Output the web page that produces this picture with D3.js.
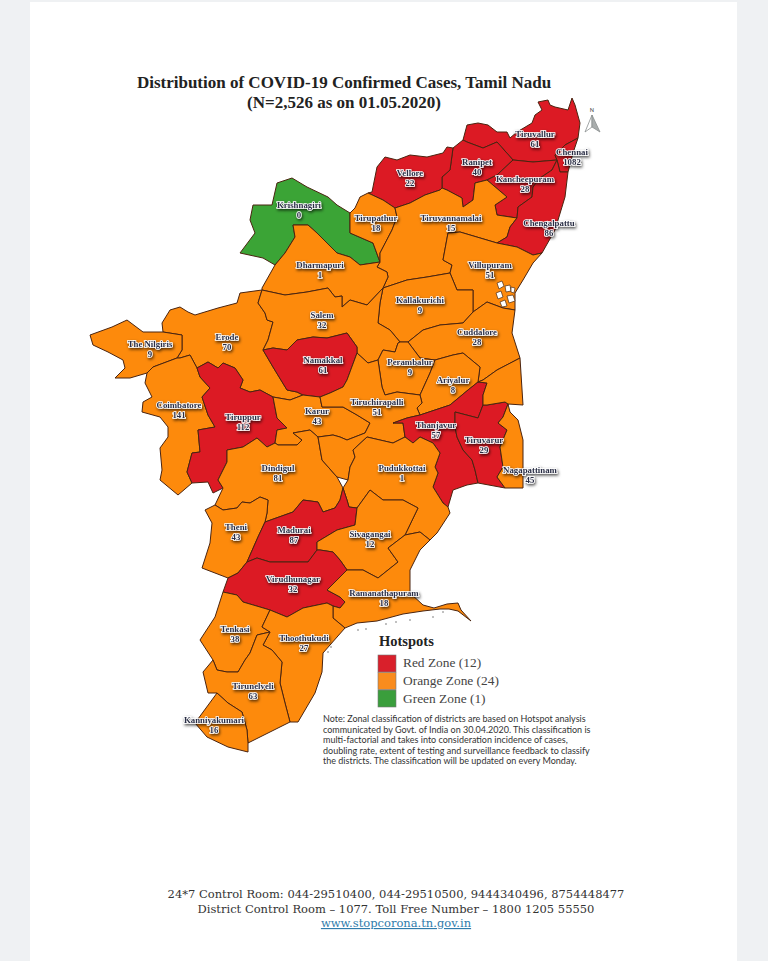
<!DOCTYPE html>
<html>
<head>
<meta charset="utf-8">
<title>Distribution of COVID-19 Confirmed Cases, Tamil Nadu</title>
<script src="https://cdn.jsdelivr.net/npm/d3@7"></script>
<style>
  html, body { margin: 0; padding: 0; background: #eff1f3; }
  svg { display: block; }
</style>
</head>
<body>
<script>
// the chart values
var titleLines = ["Distribution of COVID-19 Confirmed Cases, Tamil Nadu", "(N=2,526 as on 01.05.2020)"];

var districtNames = ["Tiruvallur", "Chennai", "Ranipet", "Vellore", "Kancheepuram", "Krishnagiri", "Tirupathur",
  "Tiruvannamalai", "Chengalpattu", "Dharmapuri", "Villupuram", "Kallakurichi", "Erode", "Salem", "The Nilgiris",
  "Namakkal", "Coimbatore", "Tiruppur", "Karur", "Dindigul", "Cuddalore", "Perambalur", "Ariyalur", "Tiruchirapalli",
  "Thanjavur", "Tiruvarur", "Pudukkottai", "Nagapattinam", "Theni", "Madurai", "Sivagangai", "Virudhunagar",
  "Ramanathapuram", "Tenkasi", "Thoothukudi", "Tirunelveli", "Kanniyakumari"];

var districtCases = [61, 1082, 40, 22, 28, 0, 18, 15, 86, 1, 51, 9, 70, 32, 9, 61, 141, 112, 43, 81, 28, 9, 8, 51,
  57, 29, 1, 45, 43, 87, 12, 32, 18, 38, 27, 63, 16];

var districtZones = ["Red", "Red", "Red", "Red", "Red", "Green", "Orange", "Orange", "Red", "Orange", "Orange",
  "Orange", "Orange", "Orange", "Orange", "Red", "Orange", "Red", "Orange", "Orange", "Orange", "Orange", "Orange",
  "Orange", "Red", "Red", "Orange", "Orange", "Orange", "Red", "Orange", "Red", "Orange", "Orange", "Orange",
  "Orange", "Orange"];

var zoneNames = ["Red", "Orange", "Green"];
var zoneCounts = [12, 24, 1];

var noteLines = ["Note: Zonal classification of districts are based on Hotspot analysis",
  "communicated by Govt. of India on 30.04.2020. This classification is",
  "multi-factorial and takes into consideration incidence of cases,",
  "doubling rate, extent of testing and surveillance feedback to classify",
  "the districts. The classification will be updated on every Monday."];

var footerLines = ["24*7 Control Room: 044-29510400, 044-29510500, 9444340496, 8754448477",
  "District Control Room \u2013 1077. Toll Free Number \u2013 1800 1205 55550"];
var footerLink = "www.stopcorona.tn.gov.in";

// map geometry, same order as districtNames
var districtRings = [
  [[463,140],[467,125],[478,123],[488,125],[497,132],[507,132],[510,138],[517,132],[532,123],[535,115],[542,110],[538,102],[548,100],[550,105],[555,107],[568,110],[572,98],[575,105],[580,123],[578,138],[565,145],[555,155],[557,160],[533,162],[513,160],[497,142],[483,148],[467,142]],
  [[578,138],[573,153],[568,172],[560,172],[557,160],[555,155],[565,145]],
  [[453,148],[463,140],[467,142],[483,148],[497,142],[513,160],[497,175],[487,180],[475,183],[473,200],[463,207],[462,198],[447,190],[442,188],[442,177],[450,170]],
  [[453,148],[450,170],[442,177],[442,188],[440,190],[425,195],[410,203],[395,208],[383,200],[368,193],[372,192],[377,167],[385,157],[397,160],[410,155],[427,157],[443,153],[447,147]],
  [[513,160],[533,162],[557,160],[552,170],[540,178],[533,187],[532,197],[518,207],[517,218],[497,215],[495,205],[507,197],[487,180],[497,175]],
  [[240,253],[255,233],[250,220],[253,205],[272,205],[277,183],[292,178],[307,187],[328,197],[337,205],[350,213],[350,233],[373,243],[380,262],[360,265],[350,257],[337,253],[317,233],[308,225],[293,225],[295,237],[285,253],[275,265],[263,258]],
  [[368,193],[383,200],[395,208],[397,217],[392,230],[380,253],[380,262],[373,243],[350,233],[350,213],[355,208],[360,197]],
  [[395,208],[410,203],[425,195],[440,190],[442,188],[447,190],[462,198],[463,207],[473,200],[475,183],[487,180],[507,197],[495,205],[497,215],[517,218],[510,227],[507,237],[497,243],[460,232],[448,233],[443,260],[452,265],[450,273],[427,277],[407,280],[383,288],[388,277],[387,272],[377,267],[380,262],[380,253],[392,230],[397,217]],
  [[557,160],[560,172],[568,172],[565,197],[555,230],[542,253],[533,255],[517,247],[497,243],[507,237],[510,227],[517,218],[518,207],[532,197],[533,187],[540,178],[552,170]],
  [[275,265],[285,253],[295,237],[293,225],[308,225],[317,233],[337,253],[350,257],[360,265],[380,262],[377,267],[387,272],[388,277],[383,288],[367,305],[350,300],[342,307],[342,296],[335,297],[328,288],[307,292],[285,295],[262,290],[262,288]],
  [[448,233],[460,232],[497,243],[517,247],[533,255],[542,253],[533,263],[523,280],[515,293],[515,310],[503,308],[487,302],[473,312],[473,303],[473,290],[457,290],[450,273],[452,265],[443,260]],
  [[383,288],[407,280],[427,277],[450,273],[457,290],[473,290],[473,303],[473,312],[463,323],[440,325],[423,330],[408,342],[400,342],[390,330],[378,323],[380,303]],
  [[262,290],[258,303],[265,313],[267,320],[273,322],[268,340],[263,350],[273,367],[287,390],[297,392],[303,395],[290,400],[273,397],[260,390],[250,392],[240,388],[243,380],[235,368],[223,363],[218,368],[208,362],[197,368],[190,355],[180,358],[177,358],[182,350],[182,335],[163,332],[162,323],[170,310],[180,307],[188,312],[195,315],[218,308],[237,303],[240,293]],
  [[262,290],[285,295],[307,292],[328,288],[335,297],[342,296],[342,307],[350,300],[367,305],[383,288],[380,303],[378,323],[390,330],[400,342],[398,343],[395,352],[383,350],[378,360],[368,363],[357,353],[357,347],[347,333],[327,338],[313,337],[297,340],[287,350],[273,348],[263,350],[268,340],[273,322],[267,320],[265,313],[258,303]],
  [[163,332],[182,335],[182,350],[177,358],[153,367],[147,373],[130,378],[115,378],[125,368],[123,360],[108,352],[93,345],[90,335],[112,327],[127,320],[143,332]],
  [[263,350],[273,348],[287,350],[297,340],[313,337],[327,338],[347,333],[357,347],[357,353],[347,380],[343,387],[330,393],[320,397],[303,395],[297,392],[287,390],[273,367]],
  [[147,373],[153,367],[177,358],[180,358],[190,355],[197,368],[200,377],[210,388],[202,397],[208,415],[215,427],[198,430],[200,452],[192,453],[187,472],[192,483],[178,495],[160,480],[162,470],[160,448],[168,437],[168,427],[160,417],[142,412],[143,402],[152,397],[145,383]],
  [[197,368],[208,362],[218,368],[223,363],[235,368],[243,380],[240,388],[250,392],[260,390],[273,397],[277,418],[287,428],[277,430],[275,443],[267,447],[257,438],[243,447],[227,450],[227,462],[218,480],[223,488],[213,493],[208,482],[192,483],[187,472],[192,453],[200,452],[198,430],[215,427],[208,415],[202,397],[210,388],[200,377]],
  [[273,397],[290,400],[303,395],[320,397],[322,407],[343,407],[357,415],[370,423],[365,433],[347,440],[340,437],[333,435],[318,437],[310,430],[293,433],[302,440],[297,445],[278,445],[275,443],[277,430],[287,428],[277,418]],
  [[223,488],[215,505],[223,510],[237,508],[242,502],[250,503],[260,497],[268,500],[267,513],[265,522],[293,512],[303,500],[318,502],[323,512],[335,508],[340,500],[343,488],[337,477],[322,460],[318,437],[310,430],[293,433],[302,440],[297,445],[278,445],[275,443],[267,447],[257,438],[243,447],[227,450],[227,462],[218,480]],
  [[408,342],[423,330],[440,325],[463,323],[473,312],[487,302],[503,308],[515,310],[512,333],[520,358],[497,370],[483,380],[478,382],[480,367],[463,353],[453,355],[435,360],[420,358]],
  [[400,342],[408,342],[420,358],[435,360],[430,373],[420,395],[397,392],[385,395],[382,387],[378,360],[383,350],[395,352],[398,343]],
  [[435,360],[453,355],[463,353],[480,367],[478,382],[468,390],[450,405],[420,415],[417,408],[422,403],[420,395],[430,373]],
  [[357,353],[368,363],[378,360],[382,387],[385,395],[397,392],[420,395],[422,403],[417,408],[420,415],[407,418],[393,423],[403,423],[405,437],[393,443],[380,440],[367,437],[353,450],[355,457],[350,467],[348,480],[337,477],[322,460],[318,437],[333,435],[340,437],[347,440],[365,433],[370,423],[357,415],[343,407],[322,407],[320,397],[330,393],[343,387],[347,380]],
  [[478,382],[487,383],[483,395],[483,405],[478,418],[455,412],[455,427],[457,437],[463,450],[472,460],[475,470],[478,483],[467,485],[453,490],[448,507],[443,503],[433,487],[438,473],[435,467],[440,453],[433,443],[420,437],[413,443],[405,437],[403,423],[393,423],[407,418],[420,415],[450,405],[468,390]],
  [[483,405],[487,405],[505,402],[508,404],[503,417],[498,423],[507,430],[500,447],[503,467],[497,477],[505,488],[478,483],[475,470],[472,460],[463,450],[457,437],[455,427],[455,412],[478,418]],
  [[353,450],[367,437],[380,440],[393,443],[405,437],[413,443],[420,437],[433,443],[440,453],[435,467],[438,473],[433,487],[443,503],[448,507],[450,513],[437,533],[430,540],[420,532],[405,535],[418,508],[403,500],[383,500],[370,490],[357,508],[349,507],[347,500],[343,488],[348,480],[350,467],[355,457]],
  [[[478,382],[483,380],[497,370],[520,358],[523,405],[508,404],[505,402],[487,405],[483,405],[483,395],[487,383]],
   [[508,404],[510,412],[518,420],[523,440],[523,477],[523,488],[505,488],[497,477],[503,467],[500,447],[507,430],[498,423],[503,417]]],
  [[205,510],[215,505],[223,510],[237,508],[242,502],[250,503],[260,497],[268,500],[267,513],[265,522],[258,537],[247,562],[238,573],[228,578],[202,568],[210,543],[212,523]],
  [[343,488],[347,500],[349,507],[357,508],[355,525],[337,530],[317,542],[317,550],[308,562],[270,562],[257,558],[247,562],[258,537],[265,522],[293,512],[303,500],[318,502],[323,512],[335,508],[340,500]],
  [[317,542],[337,530],[355,525],[357,508],[370,490],[383,500],[403,500],[418,508],[405,535],[388,548],[398,562],[378,578],[363,570],[347,570],[340,560],[333,552],[320,550],[317,550]],
  [[247,562],[257,558],[270,562],[308,562],[317,550],[320,550],[333,552],[340,560],[347,570],[327,590],[340,597],[345,602],[340,608],[333,606],[327,603],[303,608],[287,617],[270,610],[260,607],[243,602],[237,595],[223,592],[228,578],[238,573]],
  [[430,540],[420,532],[405,535],[388,548],[398,562],[378,578],[363,570],[347,570],[327,590],[340,597],[345,602],[340,608],[333,606],[333,618],[345,628],[357,623],[377,621],[403,614],[423,611],[440,609],[449,609],[458,611],[471,621],[461,610],[458,603],[447,604],[434,608],[423,605],[410,593],[410,570],[420,550]],
  [[223,592],[237,595],[243,602],[260,607],[270,610],[262,627],[270,632],[257,635],[250,653],[245,660],[238,672],[227,672],[217,670],[213,660],[200,640],[215,617]],
  [[270,610],[287,617],[303,608],[327,603],[333,606],[333,618],[345,628],[330,645],[323,653],[322,672],[315,693],[298,722],[290,722],[285,703],[280,683],[282,662],[272,650],[263,645],[270,632],[262,627]],
  [[213,660],[217,670],[227,672],[238,672],[245,660],[250,653],[257,635],[270,632],[263,645],[272,650],[282,662],[280,683],[285,703],[290,722],[248,743],[247,730],[242,712],[228,703],[217,693],[208,693],[203,672]],
  [[217,693],[228,703],[242,712],[247,730],[248,743],[248,752],[228,747],[207,737],[195,723]]
];

// label centres in the same map units, name line first and count line under it
var labelAnchors = [[535,134],[572,152],[477,162],[410,173],[525,179],[299,205],[376,218],[451,218],[549,223],
  [320,265],[490,265],[420,300],[227,337],[322,315],[150,344],[323,360],[179,405],[243,417],[317,411],[278,468],
  [477,332],[410,362],[453,380],[377,402],[436,425],[484,440],[402,468],[530,470],[236,527],[294,530],[370,534],
  [293,579],[384,593],[235,629],[304,638],[253,686],[214,720]];

// white tidal patches on the Villupuram coast and small islands off Ramanathapuram
var coastPatches = [
  [[497,283],[502,281],[504,286],[499,289]], [[505,286],[510,285],[511,291],[506,292]],
  [[496,293],[501,291],[503,297],[498,299]], [[507,296],[513,295],[515,301],[509,303]],
  [[500,302],[505,300],[507,306],[502,307]], [[511,287],[515,288],[514,293],[511,292]]
];
var islandPoints = [[358,630],[366,629],[386,624],[396,622],[410,620],[433,617],[443,612],[331,647],[328,652]];

var width = 768;
var height = 961;

var svg = d3.select("body").append("svg")
  .attr("width", width)
  .attr("height", height);

// the white sheet on the grey page
svg.append("rect").attr("x", 30).attr("y", 2).attr("width", 707).attr("height", height).attr("fill", "#fff");

// label shadow
var defs = svg.append("defs");
defs.append("filter").attr("id", "labelShadow")
  .attr("x", "-20%").attr("y", "-40%").attr("width", "140%").attr("height", "190%")
  .append("feDropShadow")
  .attr("dx", 1).attr("dy", 1.6).attr("stdDeviation", 1.5)
  .attr("flood-color", "#000").attr("flood-opacity", 0.7);

// colours for the zones
var zoneColor = d3.scaleOrdinal().domain(zoneNames).range(["#dc1a24", "#fd8a0c", "#3ba436"]);
var legendColor = d3.scaleOrdinal().domain(zoneNames).range(["#d9202b", "#f98c1e", "#3a9e3c"]);

// title
svg.append("g").selectAll("text").data(titleLines).join("text")
  .attr("x", 344)
  .attr("y", function(d, i) { return 88 + i * 20; })
  .attr("text-anchor", "middle")
  .attr("font-family", "'Liberation Serif', serif")
  .attr("font-weight", "bold")
  .attr("font-size", 17)
  .attr("fill", "#222")
  .text(function(d) { return d; });

// build the features out of the arrays
var features = districtNames.map(function(name, i) {
  var ring = districtRings[i];
  var multi = Array.isArray(ring[0][0]);
  return {
    type: "Feature",
    properties: { name: name, cases: districtCases[i], zone: districtZones[i], anchor: labelAnchors[i] },
    geometry: multi
      ? { type: "MultiPolygon", coordinates: ring.map(function(r) { return [r.concat([r[0]])]; }) }
      : { type: "Polygon", coordinates: [ring.concat([ring[0]])] }
  };
});

var projection = d3.geoIdentity();
var path = d3.geoPath(projection).pointRadius(0.7);

var map = svg.append("g");

map.selectAll("path.district").data(features).join("path")
  .attr("class", "district")
  .attr("d", path)
  .attr("fill", function(d) { return zoneColor(d.properties.zone); })
  .attr("stroke", "#4a2410")
  .attr("stroke-width", 1)
  .attr("stroke-linejoin", "round");

map.selectAll("path.patch").data(coastPatches).join("path")
  .attr("class", "patch")
  .attr("d", function(r) { return path({ type: "Polygon", coordinates: [r.concat([r[0]])] }); })
  .attr("fill", "#fff")
  .attr("stroke", "#4a2a12")
  .attr("stroke-width", 0.7);

map.selectAll("path.island").data(islandPoints).join("path")
  .attr("class", "island")
  .attr("d", function(p) { return path({ type: "Point", coordinates: p }); })
  .attr("fill", "#555");

// north arrow
var arrow = svg.append("g").attr("transform", "translate(592,0)");
arrow.append("path").attr("d", "M0,115 L-7,132 L0,127 Z").attr("fill", "#fff").attr("stroke", "#8a8f8f").attr("stroke-width", 0.8);
arrow.append("path").attr("d", "M0,115 L8,132 L0,127 Z").attr("fill", "#a9adad").attr("stroke", "#8a8f8f").attr("stroke-width", 0.8);
arrow.append("text").attr("y", 112).attr("text-anchor", "middle")
  .attr("font-family", "Roboto, sans-serif").attr("font-size", 6).attr("fill", "#555").text("N");

// district labels
var labels = svg.append("g").attr("filter", "url(#labelShadow)");
features.forEach(function(f) {
  var p = projection(f.properties.anchor);
  var lines = [f.properties.name, String(f.properties.cases)];
  lines.forEach(function(txt, i) {
    labels.append("text")
      .attr("x", p[0])
      .attr("y", p[1] + 3 + i * 9.5)
      .attr("text-anchor", "middle")
      .attr("font-family", "'Liberation Serif', serif")
      .attr("font-weight", "bold")
      .attr("font-size", 8.8)
      .attr("fill", "#2a2e45")
      .attr("stroke", "#fff")
      .attr("stroke-width", 1.6)
      .attr("paint-order", "stroke")
      .text(txt);
  });
});

// legend
var legend = svg.append("g");
legend.append("text").attr("x", 379).attr("y", 646)
  .attr("font-family", "'Liberation Serif', serif").attr("font-weight", "bold")
  .attr("font-size", 14.5).attr("fill", "#222").text("Hotspots");

var legendY = d3.scaleBand().domain(zoneNames).range([655, 707]).paddingInner(0.03);

legend.selectAll("rect").data(zoneNames).join("rect")
  .attr("x", 378)
  .attr("y", function(d) { return legendY(d); })
  .attr("width", 18)
  .attr("height", legendY.bandwidth())
  .attr("fill", function(d) { return legendColor(d); })
  .attr("stroke", "#777")
  .attr("stroke-width", 0.6);

legend.selectAll("text.item").data(zoneNames).join("text")
  .attr("class", "item")
  .attr("x", 403)
  .attr("y", function(d) { return legendY(d) + legendY.bandwidth() / 2 + 4; })
  .attr("font-family", "'Liberation Serif', serif")
  .attr("font-size", 13.4)
  .attr("fill", "#444")
  .text(function(d, i) { return d + " Zone (" + zoneCounts[i] + ")"; });

// note under the legend
svg.append("g").selectAll("text").data(noteLines).join("text")
  .attr("x", 323)
  .attr("y", function(d, i) { return 722 + i * 10.6; })
  .attr("font-family", "Lato, sans-serif")
  .attr("font-size", 9)
  .attr("fill", "#333")
  .text(function(d) { return d; });

// footer
svg.append("g").selectAll("text").data(footerLines).join("text")
  .attr("x", 396)
  .attr("y", function(d, i) { return 898 + i * 14.5; })
  .attr("text-anchor", "middle")
  .attr("font-family", "'DejaVu Serif', serif")
  .attr("font-size", 11.5)
  .attr("fill", "#333")
  .text(function(d) { return d; });

svg.append("text")
  .attr("x", 396).attr("y", 927)
  .attr("text-anchor", "middle")
  .attr("font-family", "'DejaVu Serif', serif")
  .attr("font-size", 11.5)
  .attr("fill", "#2f7cab")
  .attr("text-decoration", "underline")
  .text(footerLink);
</script>
</body>
</html>
